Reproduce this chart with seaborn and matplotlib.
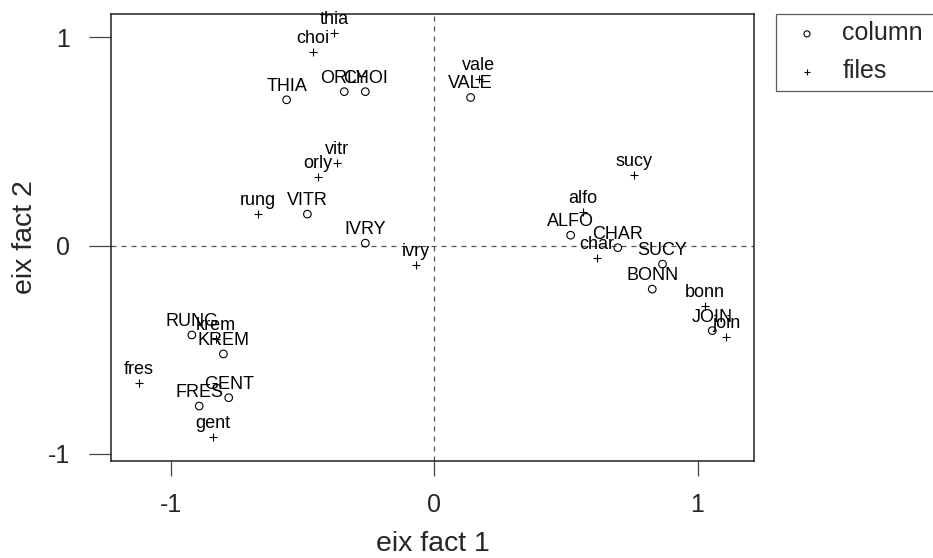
import matplotlib
matplotlib.use("Agg")
import matplotlib.pyplot as plt
import seaborn as sns
import pandas as pd

# column points (circles)
col_labels = ["THIA", "ORLY", "CHOI", "VALE", "VITR", "IVRY", "ALFO", "CHAR",
              "SUCY", "BONN", "JOIN", "RUNG", "KREM", "GENT", "FRES"]
col_x = [-0.561, -0.342, -0.262, 0.138, -0.482, -0.262, 0.518, 0.697,
         0.867, 0.828, 1.056, -0.921, -0.801, -0.781, -0.893]
col_y = [0.700, 0.739, 0.739, 0.711, 0.151, 0.012, 0.050, -0.010,
         -0.089, -0.209, -0.408, -0.429, -0.520, -0.730, -0.770]

# file points (pluses)
file_labels = ["thia", "choi", "vale", "vitr", "orly", "rung", "ivry", "alfo",
               "char", "sucy", "bonn", "join", "krem", "fres", "gent"]
file_x = [-0.380, -0.462, 0.169, -0.371, -0.443, -0.671, -0.070, 0.566,
          0.617, 0.757, 1.027, 1.110, -0.830, -1.122, -0.842]
file_y = [1.020, 0.928, 0.799, 0.396, 0.328, 0.151, -0.093, 0.163,
          -0.060, 0.339, -0.288, -0.440, -0.449, -0.661, -0.920]

ticks = [-1, 0, 1]
tick_labels = ["-1", "0", "1"]
legend_labels = ["column", "files"]

sns.set_style("ticks")
plt.rcParams["font.family"] = ["Liberation Sans", "DejaVu Sans"]

fig = plt.figure(figsize=(9.33, 5.58), dpi=100)
ax = fig.add_axes([0.119, 0.1738, 0.689, 0.8012])

df_col = pd.DataFrame({"x": col_x, "y": col_y, "label": col_labels})
df_file = pd.DataFrame({"x": file_x, "y": file_y, "label": file_labels})

sns.scatterplot(data=df_col, x="x", y="y", ax=ax, marker="o", s=30,
                facecolors="none", edgecolor="black", linewidth=0.8,
                label=legend_labels[0])
sns.scatterplot(data=df_file, x="x", y="y", ax=ax, marker="+", s=30,
                color="black", linewidth=0.8, label=legend_labels[1])

for df in (df_col, df_file):
    for _, r in df.iterrows():
        ax.annotate(r["label"], (r["x"], r["y"]), xytext=(0, 6.5),
                    textcoords="offset points", ha="center", va="baseline",
                    fontsize=13, color="black")

ax.axhline(0, color="#555555", lw=0.9, ls=(0, (4, 4)), zorder=0)
ax.axvline(0, color="#555555", lw=0.9, ls=(0, (4, 4)), zorder=0)

ax.set_xlim(-1.228, 1.214)
ax.set_ylim(-1.034, 1.112)
ax.set_xticks(ticks)
ax.set_xticklabels(tick_labels)
ax.set_yticks(ticks)
ax.set_yticklabels(tick_labels)
ax.tick_params(axis="x", length=10.8, width=0.9, pad=12, labelsize=18, color="#444444")
ax.tick_params(axis="y", length=15.6, width=0.9, pad=14, labelsize=18, color="#444444")
for sp in ax.spines.values():
    sp.set_color("#222222")
    sp.set_linewidth(1.1)

ax.set_xlabel("eix fact 1", fontsize=20.5, labelpad=10.5)
ax.set_ylabel("eix fact 2", fontsize=20.5, labelpad=7)

leg = ax.legend(loc="upper left", bbox_to_anchor=(1.034, 1.0, 0.32, 0.0),
                mode="expand", fontsize=18,
                frameon=True, fancybox=False, edgecolor="#333333",
                borderpad=0.3, labelspacing=0.56, handletextpad=0.46,
                handlelength=1.9, borderaxespad=0, markerscale=0.8)
leg.get_frame().set_linewidth(0.9)

fig.savefig("out.png", dpi=100)
